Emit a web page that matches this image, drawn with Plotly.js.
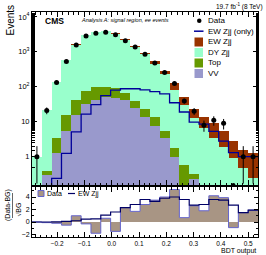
<!DOCTYPE html>
<html><head><meta charset="utf-8">
<script src="https://cdn.plot.ly/plotly-3.0.1.min.js"></script>
<style>html,body{margin:0;padding:0;background:#fff}#chart{width:266px;height:255px}</style>
</head><body><div id="chart"></div>
<script>
// Binning of the BDT output
const binStart = -0.292;
const binWidth = 0.036;

// Event counts per bin
const dataCounts = [1, 21, 133, 525, 1563, 2830, 3380, 3610, 3100, 2090, 1370, 855, 480, 257, 124, 39, 20, 8, 11, 9, 0, 1, 1];
const vvYield    = [0, 0.30, 1.25, 5.4, 15.5, 31.4, 41.7, 51.8, 48.7, 41.7, 24.1, 13.4, 7.5, 3.36, 1.0, 0.05, 0.23, 0, 0, 0, 0, 0, 0];
const topYield   = [0, 0.09, 2.24, 10.1, 26.2, 44, 58.3, 48.2, 41.3, 25.7, 14.9, 9.6, 6.4, 2.06, 0.81, 0.53, 0.1, 0, 0, 0, 0, 0, 0];
const dyYield    = [0.97, 21.1, 135, 563, 1580, 2908, 3529, 3824, 3187, 2105, 1357, 831, 422, 221, 78.7, 29.4, 12.2, 6.8, 3.5, 1.9, 0.9, 0.47, 0.24];
const ewYield    = [0.03, 0.08, 0.24, 1.25, 5.1, 16.5, 31, 56, 80, 88, 88, 82, 100, 60, 44, 21.8, 10.1, 7, 5.5, 3.5, 2.0, 1.1, 1.0];
const ewOnly     = [0.03, 0.08, 0.24, 1.25, 5.1, 16.5, 31, 56, 80, 88, 88, 82, 73, 63, 35, 19, 9.7, 8.5, 5.3, 2.8, 1.3, 1.0, 1.0];

// Ratio panel: (Data-BG)/sqrt(BG) and EW Zjj/sqrt(BG)
const ratioData = [0, -0.1, -0.2, -0.5, 1.0, -0.3, -1.8, 0.6, -1.5, 2.3, 1.7, 2.8, 3.5, 4.0, 5.2, 0.7, 2.6, 1.8, 4.2, 3.9, -0.9, 1.5, 1.9];
const ratioEW   = [0, 0, 0.02, 0.1, 0.2, 0.45, 0.5, 1.1, 1.6, 2.3, 2.8, 3.6, 3.3, 3.8, 4.0, 3.6, 2.7, 2.8, 3.6, 3.5, 2.7, 1.5, 1.9];

const yTickVals = [1, 10, 100, 1000, 10000];
const yTickText = ['1', '10', '10<sup>2</sup>', '10<sup>3</sup>', '10<sup>4</sup>'];
const ratioTicks = [-2, 0, 2, 4];

const nBins = dataCounts.length;
const edges = Array.from({length: nBins + 1}, (_, i) => binStart + i * binWidth);
const centers = edges.slice(0, -1).map(e => e + binWidth / 2);
const stepY = v => v.concat([v[v.length - 1]]);

const FONT = 'Liberation Sans, Arial, Helvetica, sans-serif';
const C = {vv: '#9999cc', top: '#669900', dy: '#99ffcc', ew: '#993300', ewLine: '#000099',
           rFill: '#a89584', rLine: '#6666cc', rEW: '#000066'};

const logMin = -0.81, logMax = 4.14;

// geometry helpers (pixel -> paper)
const L = 32, R = 8, T = 12, B = 18, W = 266, H = 255;
const PW = W - L - R, PH = H - T - B;
const px = x => (x - L) / PW;
const py = y => (H - B - y) / PH;

const bar = (y, color, name) => ({
  type: 'bar', x: centers, y: y, width: binWidth, name: name,
  marker: {color: color, line: {width: 0}}, xaxis: 'x', yaxis: 'y', showlegend: false, hoverinfo: 'skip'
});

const nonZero = dataCounts.map(v => v > 0 ? v : null);
const errUp = dataCounts.map(v => v > 0 ? Math.sqrt(v) : 0);
const errDn = dataCounts.map(v => v > 1 ? Math.sqrt(v) : 0.83 * v);
const zeroX = centers.filter((c, i) => dataCounts[i] === 0);

const traces = [
  bar(vvYield, C.vv, 'VV'),
  bar(topYield, C.top, 'Top'),
  bar(dyYield, C.dy, 'DY Zjj'),
  bar(ewYield, C.ew, 'EW Zjj'),
  {type: 'scatter', mode: 'lines', x: edges, y: stepY(ewOnly), line: {shape: 'hv', color: C.ewLine, width: 1.3},
   xaxis: 'x', yaxis: 'y', showlegend: false, hoverinfo: 'skip'},
  {type: 'scatter', mode: 'markers', x: centers, y: nonZero,
   marker: {color: '#000', size: 5},
   error_y: {type: 'data', symmetric: false, array: errUp, arrayminus: errDn, color: '#000', thickness: 1, width: 0},
   xaxis: 'x', yaxis: 'y', showlegend: false, hoverinfo: 'skip'},
  {type: 'scatter', mode: 'markers', x: zeroX, y: zeroX.map(() => Math.pow(10, logMin)), cliponaxis: false,
   marker: {color: '#000', size: 4}, xaxis: 'x', yaxis: 'y', showlegend: false, hoverinfo: 'skip'},
  // ratio panel
  {type: 'scatter', mode: 'lines', x: edges, y: stepY(ratioData), fill: 'tozeroy', fillcolor: C.rFill,
   line: {shape: 'hv', color: C.rLine, width: 1}, xaxis: 'x2', yaxis: 'y2', showlegend: false, hoverinfo: 'skip'},
  {type: 'scatter', mode: 'lines', x: edges, y: stepY(ratioEW),
   line: {shape: 'hv', color: C.rEW, width: 1.2}, xaxis: 'x2', yaxis: 'y2', showlegend: false, hoverinfo: 'skip'}
];

const axisCommon = {
  showline: true, linecolor: '#000', linewidth: 1, mirror: 'ticks', ticks: 'inside',
  tickcolor: '#000', showgrid: false, zeroline: false, tickfont: {family: FONT, size: 7, color: '#000'}
};

const mainBottom = py(185), ratioTop = py(187);

const annotations = [
  {text: '<b>CMS</b>', x: px(43), y: py(21), xanchor: 'left', yanchor: 'middle', font: {family: FONT, size: 8.5, color: '#000'}},
  {text: '<i>Analysis A: signal region, ee events</i>', x: px(79), y: py(20), xanchor: 'left', yanchor: 'middle', font: {family: FONT, size: 5.5, color: '#000'}},
  {text: '19.7 fb<sup>-1</sup> (8 TeV)', x: px(265), y: py(6), xanchor: 'right', yanchor: 'middle', font: {family: FONT, size: 6.5, color: '#000'}},
  {text: 'Events', x: px(10), y: py(3), xanchor: 'center', yanchor: 'top', textangle: -90, font: {family: FONT, size: 10, color: '#000'}},
  {text: 'BDT output', x: px(258), y: py(251), xanchor: 'right', yanchor: 'middle', font: {family: FONT, size: 7, color: '#000'}},
  {text: '(Data-BG)', x: px(8), y: py(205), xanchor: 'center', yanchor: 'middle', textangle: -90, font: {family: FONT, size: 7, color: '#000'}},
  {text: '√BG', x: px(17.5), y: py(210), xanchor: 'center', yanchor: 'middle', textangle: -90, font: {family: FONT, size: 7, color: '#000'}}
];
// main legend
const legRows = [['Data', 20.7], ['EW Zjj (only)', 31.2], ['EW Zjj', 41.8], ['DY Zjj', 52.2], ['Top', 62.6], ['VV', 73]];
legRows.forEach(([t, y]) => annotations.push({text: t, x: px(206), y: py(y), xanchor: 'left', yanchor: 'middle', font: {family: FONT, size: 8, color: '#000'}}));
// ratio legend
annotations.push({text: 'Data', x: px(45), y: py(193.5), xanchor: 'left', yanchor: 'middle', font: {family: FONT, size: 7, color: '#000'}});
annotations.push({text: 'EW Zjj', x: px(76), y: py(193.5), xanchor: 'left', yanchor: 'middle', font: {family: FONT, size: 7, color: '#000'}});
annotations.forEach(a => { a.xref = 'paper'; a.yref = 'paper'; a.showarrow = false; });

const box = (x0, x1, y0, y1, fill, line) => ({type: 'rect', xref: 'paper', yref: 'paper', x0: px(x0), x1: px(x1), y0: py(y1), y1: py(y0),
  fillcolor: fill, line: {color: line || fill, width: line ? 1 : 0}});
const shapes = [
  {type: 'circle', xref: 'paper', yref: 'paper', x0: px(197), x1: px(201.5), y0: py(23), y1: py(18.5), fillcolor: '#000', line: {width: 0}},
  {type: 'line', xref: 'paper', yref: 'paper', x0: px(194), x1: px(203.5), y0: py(31.2), y1: py(31.2), line: {color: C.ewLine, width: 1.5}},
  box(194.5, 203, 37.5, 46.5, C.ew),
  box(194.5, 203, 48, 57, C.dy),
  box(194.5, 203, 58.5, 67.5, C.top),
  box(194.5, 203, 69, 78, C.vv),
  box(38, 44, 190.5, 196.5, C.rFill, C.rLine),
  {type: 'line', xref: 'paper', yref: 'paper', x0: px(68), x1: px(75), y0: py(193.5), y1: py(193.5), line: {color: C.rEW, width: 1.2}},
  {type: 'line', xref: 'paper', yref: 'paper', x0: px(12.5), x1: px(12.5), y0: py(218), y1: py(193), line: {color: '#000', width: 0.6}}
];

const layout = {
  width: W, height: H, margin: {l: L, r: R, t: T, b: B, pad: 0},
  paper_bgcolor: '#fff', plot_bgcolor: '#fff', barmode: 'stack', bargap: 0, showlegend: false,
  font: {family: FONT, color: '#000'},
  xaxis: Object.assign({}, axisCommon, {anchor: 'y', domain: [0, 1], range: [edges[0], edges[nBins]], matches: 'x2',
    showticklabels: false, tick0: 0, dtick: 0.1, ticklen: 5,
    minor: {ticks: 'inside', ticklen: 2.5, dtick: 0.02, tickcolor: '#000', showgrid: false}}),
  yaxis: Object.assign({}, axisCommon, {anchor: 'x', domain: [mainBottom, 1], type: 'log', range: [logMin, logMax],
    tickvals: yTickVals, ticktext: yTickText, ticklen: 5, tickfont: {family: FONT, size: 7.5, color: '#000'},
    minor: {ticks: 'inside', ticklen: 2.5, tickcolor: '#000', showgrid: false}}),
  xaxis2: Object.assign({}, axisCommon, {anchor: 'y2', domain: [0, 1], range: [edges[0], edges[nBins]],
    tick0: 0, dtick: 0.1, ticklen: 5, tickformat: '.1f', tickfont: {family: FONT, size: 6.5, color: '#000'},
    minor: {ticks: 'inside', ticklen: 2.5, dtick: 0.02, tickcolor: '#000', showgrid: false}}),
  yaxis2: Object.assign({}, axisCommon, {anchor: 'x2', domain: [0, ratioTop], range: [-2.4, 5.6],
    tickvals: ratioTicks, ticklen: 4, minor: {ticks: 'inside', ticklen: 2, dtick: 1, tickcolor: '#000', showgrid: false}}),
  annotations: annotations, shapes: shapes
};

Plotly.newPlot('chart', traces, layout, {staticPlot: true, displayModeBar: false});
</script></body></html>
